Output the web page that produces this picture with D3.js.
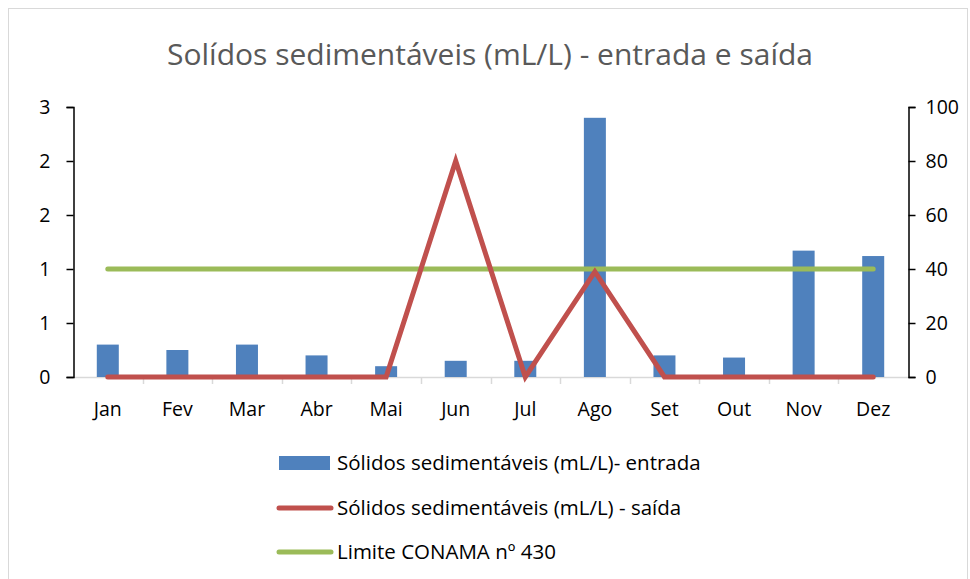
<!DOCTYPE html>
<html>
<head>
<meta charset="utf-8">
<script src="https://cdn.jsdelivr.net/npm/d3@7"></script>
<style>
body{margin:0;background:#fff;}
svg{display:block;font-family:"Open Sans",Lato,sans-serif;}
</style>
</head>
<body>
<svg width="970" height="579"></svg>
<script>
// dados
var meses = ['Jan','Fev','Mar','Abr','Mai','Jun','Jul','Ago','Set','Out','Nov','Dez'];
var entrada = [0.3,0.25,0.3,0.2,0.1,0.15,0.15,2.4,0.2,0.18,1.17,1.12];
var saida = [0,0,0,0,0,80,0,39,0,0,0,0];
var limite = [40,40,40,40,40,40,40,40,40,40,40,40];
var ticksEsq = [0,0.5,1,1.5,2,2.5];
var ticksDir = [0,20,40,60,80,100];

var svg = d3.select('svg');

svg.append('rect').attr('x',8.5).attr('y',8.5).attr('width',959).attr('height',580)
  .attr('fill','#fff').attr('stroke','#d9d9d9').attr('stroke-width',1);

svg.append('text').attr('x',490).attr('y',65).attr('text-anchor','middle')
  .attr('font-size',30).attr('fill','#595959')
  .text('Solídos sedimentáveis (mL/L) - entrada e saída');

var x = d3.scaleBand().domain(meses).range([73,908]);
var yE = d3.scaleLinear().domain([0,2.5]).range([377,107]);
var yD = d3.scaleLinear().domain([0,100]).range([377,107]);

// linha base e marcas de categoria
svg.append('line').attr('x1',73).attr('x2',908).attr('y1',377.5).attr('y2',377.5)
  .attr('stroke','#d9d9d9').attr('stroke-width',1.5);
svg.selectAll('.cat').data(meses.slice(1)).enter().append('line')
  .attr('x1',function(d){return Math.round(x(d))+0.5;})
  .attr('x2',function(d){return Math.round(x(d))+0.5;})
  .attr('y1',377).attr('y2',384).attr('stroke','#d9d9d9').attr('stroke-width',1.5);

svg.selectAll('.mes').data(meses).enter().append('text')
  .attr('x',function(d){return x(d)+x.bandwidth()/2;}).attr('y',416)
  .attr('text-anchor','middle').attr('font-size',19.5).attr('fill','#000').text(function(d){return d;});

// barras
var bw = 22;
svg.selectAll('.bar').data(entrada).enter().append('rect')
  .attr('x',function(d,i){return x(meses[i])+x.bandwidth()/2-bw/2;})
  .attr('y',function(d){return yE(d);})
  .attr('width',bw).attr('height',function(d){return 377-yE(d);})
  .attr('fill','#4f81bd');

// eixos
var eixoE = svg.append('g').attr('transform','translate(73.5,0)')
  .call(d3.axisLeft(yE).tickValues(ticksEsq).tickSize(7).tickPadding(16).tickFormat(d3.format('.0f')));
var eixoD = svg.append('g').attr('transform','translate(908.5,0)')
  .call(d3.axisRight(yD).tickValues(ticksDir).tickSize(7).tickPadding(10));
[eixoE,eixoD].forEach(function(g){
  g.select('.domain').attr('stroke','#000').attr('stroke-width',1.5);
  g.selectAll('.tick line').attr('stroke','#000').attr('stroke-width',1.5);
  g.selectAll('.tick text').attr('font-size',19.5).attr('fill','#000').attr('font-family','"Open Sans",Lato,sans-serif');
});

// linhas
var linha = d3.line().x(function(d,i){return x(meses[i])+x.bandwidth()/2;}).y(function(d){return yD(d);});
svg.append('path').datum(limite).attr('d',linha).attr('fill','none')
  .attr('stroke','#9bbb59').attr('stroke-width',5).attr('stroke-linecap','round');
svg.append('path').datum(saida).attr('d',linha).attr('fill','none')
  .attr('stroke','#c0504d').attr('stroke-width',5).attr('stroke-linecap','round').attr('stroke-linejoin','miter');

// legenda
var leg = [
  {nome:'Sólidos sedimentáveis (mL/L)- entrada', cor:'#4f81bd', tipo:'bar', y:463},
  {nome:'Sólidos sedimentáveis (mL/L) - saída', cor:'#c0504d', tipo:'line', y:508},
  {nome:'Limite CONAMA nº 430', cor:'#9bbb59', tipo:'line', y:552}
];
leg.forEach(function(l){
  if(l.tipo=='bar'){
    svg.append('rect').attr('x',279).attr('y',l.y-7).attr('width',51).attr('height',14).attr('fill',l.cor);
  } else {
    svg.append('line').attr('x1',279).attr('x2',331).attr('y1',l.y).attr('y2',l.y)
      .attr('stroke',l.cor).attr('stroke-width',5).attr('stroke-linecap','round');
  }
  svg.append('text').attr('x',337).attr('y',l.y+7).attr('font-size',20.5).attr('fill','#000').text(l.nome);
});
</script>
</body>
</html>
